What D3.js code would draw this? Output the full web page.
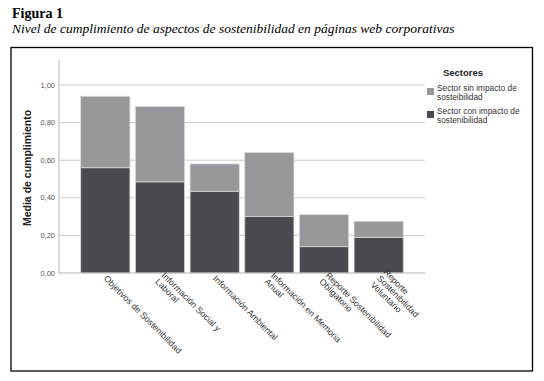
<!DOCTYPE html>
<html>
<head>
<meta charset="utf-8">
<script src="https://cdn.jsdelivr.net/npm/d3@7"></script>
<style>
  body { margin: 0; background: #fff; }
  svg { display: block; }
</style>
</head>
<body>
<div id="chart"></div>
<script>
// datos
var categorias = [
  'Objetivos de Sostenibilidad',
  'Información Social y Laboral',
  'Información Ambiental',
  'Información en Memoria Anual',
  'Reporte Sostenibilidad Obligatorio',
  'Reporte Sostenibilidad Voluntario'
];
// etiquetas partidas en lineas como en el original
var etiquetas = [
  ['Objetivos de Sostenibilidad'],
  ['Información Social y', 'Laboral'],
  ['Información Ambiental'],
  ['Información en Memoria', 'Anual'],
  ['Reporte Sostenibilidad', 'Obligatorio'],
  ['Reporte', 'Sostenibilidad', 'Voluntario']
];
var conImpacto = [0.56, 0.485, 0.435, 0.30, 0.14, 0.19];
var sinImpacto = [0.38, 0.40, 0.145, 0.34, 0.17, 0.085];
var ticksY = [0, 0.2, 0.4, 0.6, 0.8, 1.0];
var leyenda = [
  { key: 'sin', lines: ['Sector sin impacto de', 'sosteibilidad'], color: '#9a979c' },
  { key: 'con', lines: ['Sector con impacto de', 'sostenibilidad'], color: '#4a4b50' }
];

var width = 544, height = 381;
var sans = '"Liberation Sans", Arial, sans-serif';
var serif = '"Liberation Serif", "Times New Roman", serif';

var svg = d3.select('#chart')
  .append('svg')
  .attr('width', width)
  .attr('height', height);

// titulo
svg.append('text')
  .attr('x', 12).attr('y', 18)
  .style('font-family', serif)
  .style('font-weight', 'bold')
  .style('font-size', '14px')
  .text('Figura 1');

svg.append('text')
  .attr('x', 12).attr('y', 33)
  .style('font-family', serif)
  .style('font-style', 'italic')
  .style('font-size', '13.5px')
  .text('Nivel de cumplimiento de aspectos de sostenibilidad en páginas web corporativas');

// marco
svg.append('rect')
  .attr('x', 11).attr('y', 47.5)
  .attr('width', 521.5).attr('height', 323.5)
  .attr('fill', 'none')
  .attr('stroke', '#000')
  .attr('stroke-width', 1.3);

var x = d3.scaleBand()
  .domain(categorias)
  .range([78, 406])
  .paddingInner(0.1)
  .paddingOuter(0.05);

var y = d3.scaleLinear()
  .domain([0, 1])
  .range([273, 85]);

var x0 = 59, x1 = 425;

// rejilla
svg.selectAll('.grid')
  .data(ticksY.slice(1))
  .enter().append('line')
  .attr('x1', x0).attr('x2', x1)
  .attr('y1', d => y(d)).attr('y2', d => y(d))
  .attr('stroke', '#cbcbcb')
  .attr('stroke-width', 1);

// eje y
svg.append('line')
  .attr('x1', x0).attr('x2', x0)
  .attr('y1', 60).attr('y2', y(0))
  .attr('stroke', '#b5b5b5');

svg.selectAll('.ytick')
  .data(ticksY)
  .enter().append('text')
  .attr('x', 55)
  .attr('y', d => y(d) + 2.5)
  .style('text-anchor', 'end')
  .style('font-family', sans)
  .style('font-size', '7.5px')
  .style('fill', '#555')
  .text(d => d3.format('.2f')(d).replace('.', ','));

svg.append('text')
  .attr('transform', 'translate(31,168) rotate(-90)')
  .style('text-anchor', 'middle')
  .style('font-family', sans)
  .style('font-weight', 'bold')
  .style('font-size', '10.5px')
  .style('fill', '#222')
  .text('Media de cumplimiento');

// barras apiladas
var tabla = categorias.map((c, i) => ({ cat: c, con: conImpacto[i], sin: sinImpacto[i] }));
var series = d3.stack().keys(['con', 'sin'])(tabla);
var color = { con: '#4a4b50', sin: '#9a979c' };

svg.selectAll('.serie')
  .data(series)
  .enter().append('g')
  .attr('fill', d => color[d.key])
  .selectAll('rect')
  .data(d => d)
  .enter().append('rect')
  .attr('x', d => x(d.data.cat))
  .attr('width', x.bandwidth())
  .attr('y', d => y(d[1]))
  .attr('height', d => y(d[0]) - y(d[1]))
  .attr('stroke', '#d6d6d6')
  .attr('stroke-width', 0.8);

// eje x
svg.append('line')
  .attr('x1', x0).attr('x2', x1)
  .attr('y1', y(0)).attr('y2', y(0))
  .attr('stroke', '#b5b5b5');

var lab = svg.selectAll('.xlab')
  .data(categorias)
  .enter().append('g')
  .attr('transform', d => 'translate(' + (x(d) + x.bandwidth() / 2) + ',277) rotate(45)');

lab.each(function (d, i) {
  var lines = etiquetas[i];
  var n = lines.length;
  d3.select(this).selectAll('text')
    .data(lines)
    .enter().append('text')
    .attr('x', 0)
    .attr('y', (t, j) => (j - (n - 1) / 2) * 9 + 3)
    .style('font-family', sans)
    .style('font-size', '8.8px')
    .style('fill', '#333')
    .text(t => t);
});

// leyenda
svg.append('text')
  .attr('x', 463).attr('y', 76)
  .style('text-anchor', 'middle')
  .style('font-family', sans)
  .style('font-weight', 'bold')
  .style('font-size', '9.5px')
  .style('fill', '#222')
  .text('Sectores');

var leg = svg.selectAll('.legendCells')
  .data(leyenda)
  .enter().append('g')
  .attr('transform', (d, i) => 'translate(427,' + (86 + i * 23) + ')');

leg.append('rect')
  .attr('width', 7).attr('height', 7)
  .attr('y', 2)
  .attr('fill', d => d.color);

leg.each(function (d) {
  d3.select(this).selectAll('text')
    .data(d.lines)
    .enter().append('text')
    .attr('x', 10)
    .attr('y', (t, j) => 5 + j * 8.5)
    .style('font-family', sans)
    .style('font-size', '8.3px')
    .style('fill', '#333')
    .text(t => t);
});
</script>
</body>
</html>
